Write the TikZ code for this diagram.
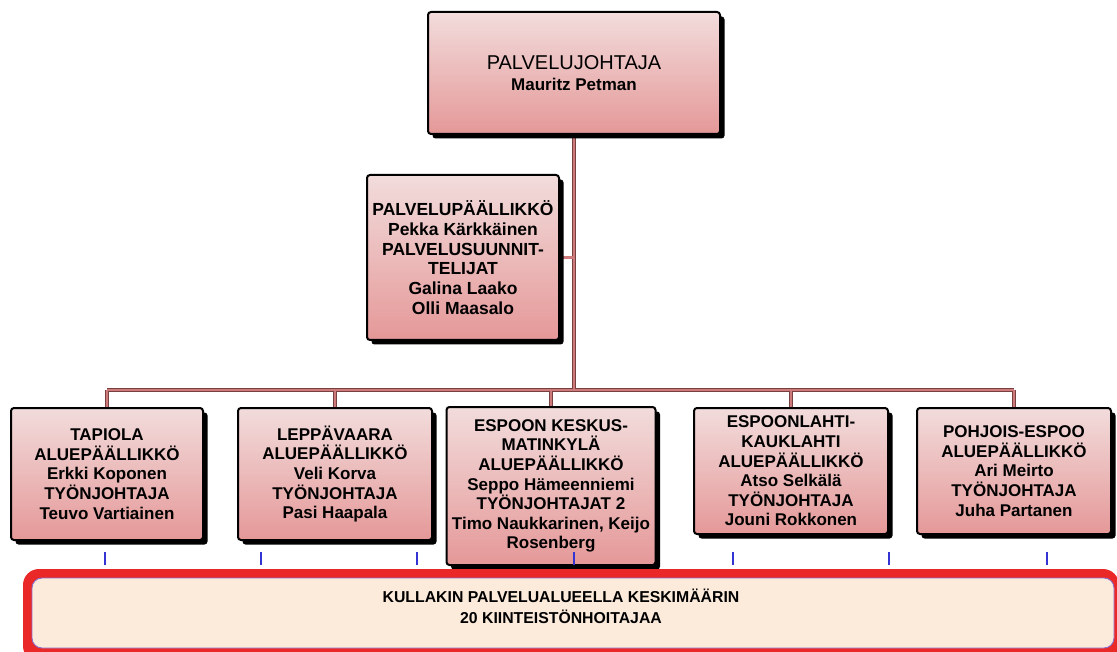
\documentclass[tikz,border=0pt]{standalone}
\usepackage{fontspec}
\setmainfont{Liberation Sans}
\usetikzlibrary{shadows,backgrounds}
\definecolor{boxtop}{RGB}{242,220,220}
\definecolor{boxbot}{RGB}{229,152,152}
\definecolor{rosy}{RGB}{204,122,122}
\definecolor{rosyedge}{RGB}{120,64,64}
\definecolor{tickblue}{RGB}{52,52,210}
\definecolor{barred}{RGB}{234,40,40}
\definecolor{peach}{RGB}{252,234,219}
\definecolor{lilac}{RGB}{140,110,200}
\begin{document}
\begin{tikzpicture}[x=1pt,y=-1pt,
  orgbox/.style={draw=black, line width=2pt, rounded corners=3pt,
    top color=boxtop, bottom color=boxbot, align=center, inner sep=2pt,
    font=\bfseries\fontsize{17}{19.6}\selectfont,
    drop shadow={shadow xshift=4.5pt, shadow yshift=-4.5pt, opacity=1, fill=black, rounded corners=3pt}},
  connout/.style={draw=rosyedge, line width=3.8pt},
  connin/.style={draw=rosy, line width=2.2pt},
  tickline/.style={draw=tickblue, line width=2.3pt},
]
\useasboundingbox (0,0) rectangle (1117,652);

\node[orgbox, minimum width=292pt, minimum height=122pt] (top) at (574,73)
  {{\mdseries\fontsize{20}{22}\selectfont PALVELUJOHTAJA}\\[2pt]Mauritz Petman};
\node[orgbox, minimum width=192pt, minimum height=165pt, font=\bfseries\fontsize{17.5}{19.7}\selectfont] (mgr) at (463,257.5)
  {PALVELUPÄÄLLIKKÖ\\Pekka Kärkkäinen\\PALVELUSUUNNIT-\\TELIJAT\\Galina Laako\\Olli Maasalo};

\node[orgbox, minimum width=192pt, minimum height=132pt] (b1) at (107,474)
  {TAPIOLA\\ALUEPÄÄLLIKKÖ\\Erkki Koponen\\TYÖNJOHTAJA\\Teuvo Vartiainen};
\node[orgbox, minimum width=194pt, minimum height=132pt] (b2) at (335,474)
  {LEPPÄVAARA\\ALUEPÄÄLLIKKÖ\\Veli Korva\\TYÖNJOHTAJA\\Pasi Haapala};
\node[orgbox, minimum width=209pt, minimum height=158pt] (b3) at (551,486)
  {ESPOON KESKUS-\\MATINKYLÄ\\ALUEPÄÄLLIKKÖ\\Seppo Hämeenniemi\\TYÖNJOHTAJAT 2\\Timo Naukkarinen, Keijo\\Rosenberg};
\node[orgbox, minimum width=194pt, minimum height=126pt] (b4) at (791,471)
  {ESPOONLAHTI-\\KAUKLAHTI\\ALUEPÄÄLLIKKÖ\\Atso Selkälä\\TYÖNJOHTAJA\\Jouni Rokkonen};
\node[orgbox, minimum width=194pt, minimum height=126pt] (b5) at (1014,471)
  {POHJOIS-ESPOO\\ALUEPÄÄLLIKKÖ\\Ari Meirto\\TYÖNJOHTAJA\\Juha Partanen};

\coordinate (bus) at (574,390);

\begin{pgfonlayer}{background}
\foreach \s in {connout,connin} {
  \draw[\s] (top.south) -- (top.south |- bus);
  \draw[\s] (mgr.east) -- (mgr.east -| bus);
  \draw[\s] (b1.north |- bus) -- (b5.north |- bus);
  \foreach \b in {b1,b2,b3,b4,b5} {
    \draw[\s] (\b.north |- bus) -- (\b.north);
  }
}
\end{pgfonlayer}

\foreach \x in {105,261,417,574,733,889,1047} {
  \draw[tickline] (\x,552) -- (\x,565);
}

\fill[barred, rounded corners=16pt] (23,569) rectangle (1119,662);
\node[fill=peach, draw=lilac, line width=0.9pt, rounded corners=10pt,
  minimum width=1082pt, minimum height=70pt] (note) at (573,613) {};
\node[font=\bfseries\fontsize{15.8}{21}\selectfont, align=center, inner sep=0pt] (notetext) at (561,606.5)
  {KULLAKIN PALVELUALUEELLA KESKIMÄÄRIN\\20 KIINTEISTÖNHOITAJAA};
\end{tikzpicture}
\end{document}
